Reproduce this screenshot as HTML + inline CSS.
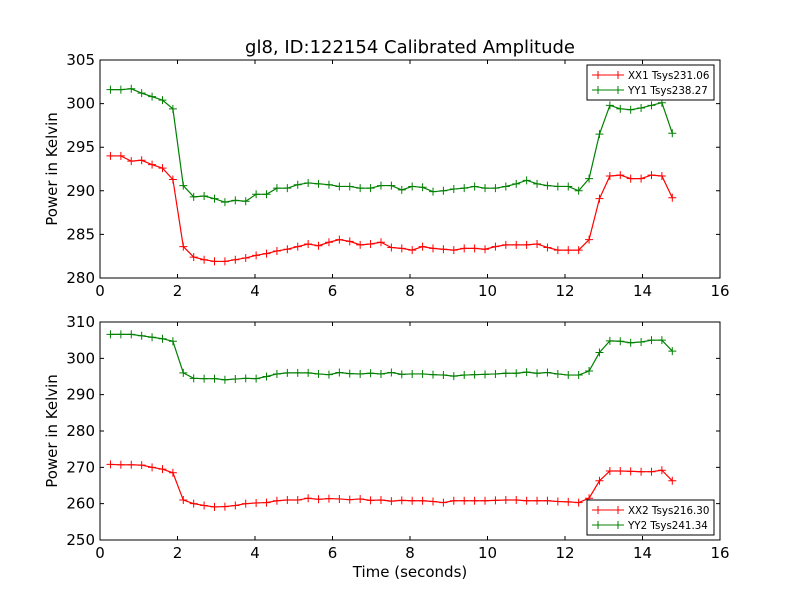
<!DOCTYPE html>
<html><head><meta charset="utf-8"><style>
body{margin:0;background:#fff;}
svg{display:block;font-family:"DejaVu Sans","Liberation Sans",sans-serif;}
</style></head><body>
<svg id="c" width="800" height="600" viewBox="0 0 800 600"></svg>
<script>
const xx1=[294,294,293.4,293.5,293,292.6,291.3,283.6,282.4,282.1,281.9,281.9,282.1,282.3,282.6,282.8,283.1,283.3,283.6,283.9,283.7,284.1,284.4,284.2,283.8,283.9,284.1,283.5,283.4,283.2,283.6,283.4,283.3,283.2,283.4,283.4,283.3,283.6,283.8,283.8,283.8,283.9,283.5,283.2,283.2,283.2,284.4,289.1,291.7,291.8,291.4,291.4,291.8,291.7,289.2];
const yy1=[301.6,301.6,301.7,301.2,300.8,300.4,299.4,290.6,289.3,289.4,289.1,288.7,288.9,288.8,289.6,289.6,290.3,290.3,290.7,290.9,290.8,290.7,290.5,290.5,290.3,290.3,290.6,290.6,290.1,290.5,290.4,289.9,290,290.2,290.3,290.5,290.3,290.3,290.5,290.8,291.2,290.8,290.6,290.5,290.5,290,291.4,296.5,299.8,299.4,299.3,299.5,299.8,300.1,296.6];
const xx2=[270.8,270.7,270.7,270.6,270,269.5,268.5,261,260,259.5,259.1,259.2,259.5,260,260.2,260.3,260.8,261,261,261.5,261.2,261.4,261.3,261.1,261.3,260.9,261,260.7,260.9,260.8,260.8,260.6,260.3,260.8,260.8,260.8,260.8,260.9,261,261,260.8,260.8,260.8,260.6,260.5,260.3,261.5,266.3,269,269,268.9,268.8,268.8,269.2,266.3];
const yy2=[306.6,306.6,306.6,306.2,305.8,305.4,304.7,296,294.5,294.4,294.4,294.1,294.3,294.5,294.4,295,295.7,296,296,296,295.7,295.5,296.1,295.8,295.7,295.9,295.7,296.1,295.6,295.7,295.7,295.5,295.4,295.1,295.4,295.5,295.6,295.7,295.9,295.9,296.2,295.9,296.1,295.7,295.4,295.4,296.5,301.6,304.8,304.7,304.3,304.5,305,305,302];
const t0=0.27, dt=0.2685;
const xTicks=[0,2,4,6,8,10,12,14,16];
const yTicksTop=[280,285,290,295,300,305];
const yTicksBot=[250,260,270,280,290,300,310];
const svg=document.getElementById('c');
const NS='http://www.w3.org/2000/svg';
function mk(tag,attrs,parent){const e=document.createElementNS(NS,tag);for(const k in attrs)e.setAttribute(k,attrs[k]);(parent||svg).appendChild(e);return e;}
function txt(s,attrs,name){const e=mk('text',attrs);e.textContent=s;return e;}
function panel(top,bot,ymin,ymax,yt,series,legend,legY,pname){
  const L=100,R=720;
  const sx=v=>L+(v-0)/(16-0)*(R-L);
  const sy=v=>bot-(v-ymin)/(ymax-ymin)*(bot-top);
  const g=mk('g',{});
  
  
  series.forEach((s,si)=>{
    const pts=s.data.map((v,i)=>[sx(t0+i*dt),sy(v)]);
    const pl=mk('polyline',{points:pts.map(p=>p.join(',')).join(' '),fill:'none',stroke:s.color,'stroke-width':1.2},g);
    
    
    pts.forEach(p=>{
      const m=mk('path',{d:`M${p[0]-4},${p[1]}H${p[0]+4}M${p[0]},${p[1]-4}V${p[1]+4}`,stroke:s.color,'stroke-width':1},g);
      
      
    });
  });
  const fr=mk('rect',{x:L,y:top,width:R-L,height:bot-top,fill:'none',stroke:'#000','stroke-width':1},g);
  
  
  xTicks.forEach(v=>{
    const x=sx(v);
    mk('path',{d:`M${x},${bot}v-4M${x},${top}v4`,stroke:'#000'},g);
    txt(String(v),{x:x,y:bot+18,'text-anchor':'middle','font-size':15},'x-tick-label');
  });
  yt.forEach(v=>{
    const y=sy(v);
    mk('path',{d:`M${L},${y}h4M${R},${y}h-4`,stroke:'#000'},g);
    txt(String(v),{x:L-5,y:y+5,'text-anchor':'end','font-size':15},'y-tick-label');
  });
  txt('Power in Kelvin',{x:0,y:0,transform:`translate(57,${(top+bot)/2}) rotate(-90)`,'text-anchor':'middle','font-size':15},'y-axis-title');
  const lg=mk('g',{},g);
  
  
  mk('rect',{x:587,y:legY,width:127,height:35,fill:'#fff',stroke:'#000'},lg);
  series.forEach((s,i)=>{
    const y=legY+10+i*15;
    mk('path',{d:`M592,${y}H624M598,${y-4}v8M618,${y-4}v8`,stroke:s.color},lg);
    const tx=mk('text',{x:628,y:y+4,'font-size':10.3},lg);
    tx.textContent=legend[i];
    
    
  });
}
txt('gl8, ID:122154 Calibrated Amplitude',{x:410,y:53,'text-anchor':'middle','font-size':18},'chart-title');
panel(60,278,280,305,yTicksTop,[{data:xx1,color:'#ff0000',name:'xx1'},{data:yy1,color:'#008000',name:'yy1'}],['XX1 Tsys231.06','YY1 Tsys238.27'],65,'top-panel');
panel(322,540,250,310,yTicksBot,[{data:xx2,color:'#ff0000',name:'xx2'},{data:yy2,color:'#008000',name:'yy2'}],['XX2 Tsys216.30','YY2 Tsys241.34'],500,'bottom-panel');
txt('Time (seconds)',{x:410,y:577,'text-anchor':'middle','font-size':15},'x-axis-title');
</script>
</body></html>
